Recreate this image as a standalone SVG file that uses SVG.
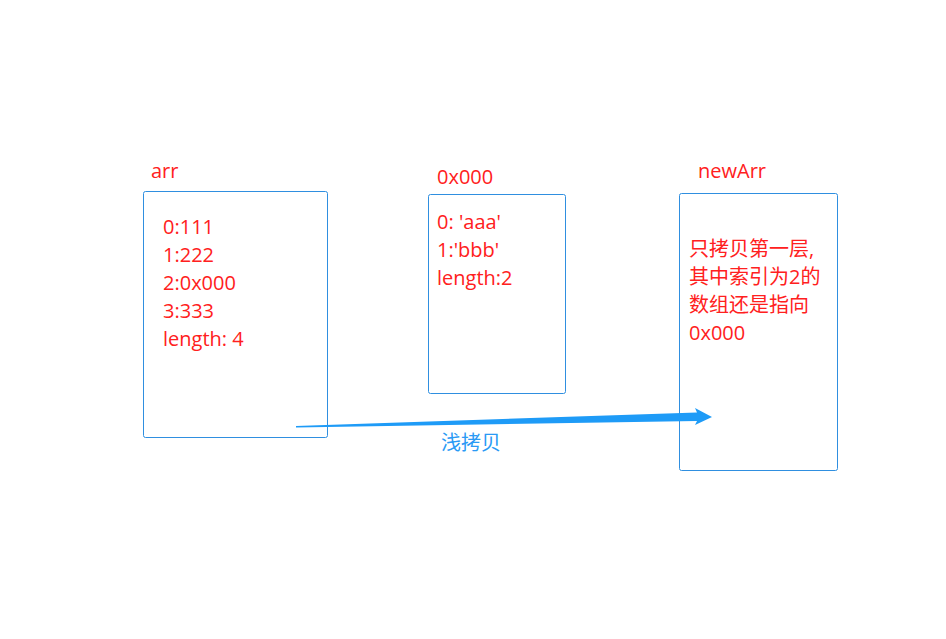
<svg xmlns="http://www.w3.org/2000/svg" width="946" height="639" viewBox="0 0 946 639">
<style>
.box{fill:#fff;stroke:#2f8fe0;stroke-width:1}
.t{font-family:"Open Sans","Noto Sans CJK SC",sans-serif;font-size:20px;fill:#ff2020}
.b{font-family:"Noto Sans CJK SC","Noto Sans",sans-serif;font-size:20px;fill:#2a9af5}
</style>
<rect width="946" height="639" fill="#fff"/>
<g id="arr">
<text class="t" x="151" y="178">arr</text>
<rect class="box" x="143.5" y="191.5" width="184" height="246" rx="2"/>
<text class="t" x="163" y="234">0:111</text>
<text class="t" x="163" y="262">1:222</text>
<text class="t" x="163" y="290">2:0x000</text>
<text class="t" x="163" y="318">3:333</text>
<text class="t" x="163" y="346">length: 4</text>
</g>
<g id="obj0x000">
<text class="t" x="437" y="184">0x000</text>
<rect class="box" x="428.5" y="194.5" width="137" height="199" rx="2"/>
<text class="t" x="437" y="229">0: 'aaa'</text>
<text class="t" x="437" y="257">1:'bbb'</text>
<text class="t" x="437" y="285">length:2</text>
</g>
<g id="newArr">
<text class="t" x="698" y="178">newArr</text>
<rect class="box" x="679.5" y="193.5" width="158" height="277" rx="2"/>
<text class="t" x="689" y="256">只拷贝第一层,</text>
<text class="t" x="689" y="284">其中索引为2的</text>
<text class="t" x="689" y="312">数组还是指向</text>
<text class="t" x="689" y="340">0x000</text>
</g>
<g id="connectors">
<polygon points="296,427.5 296,426 697,412.5 695,408 712,417 695,425 697,421" fill="#1e9bf7"/>
<text class="b" x="441" y="450">浅拷贝</text>
</g>
</svg>
